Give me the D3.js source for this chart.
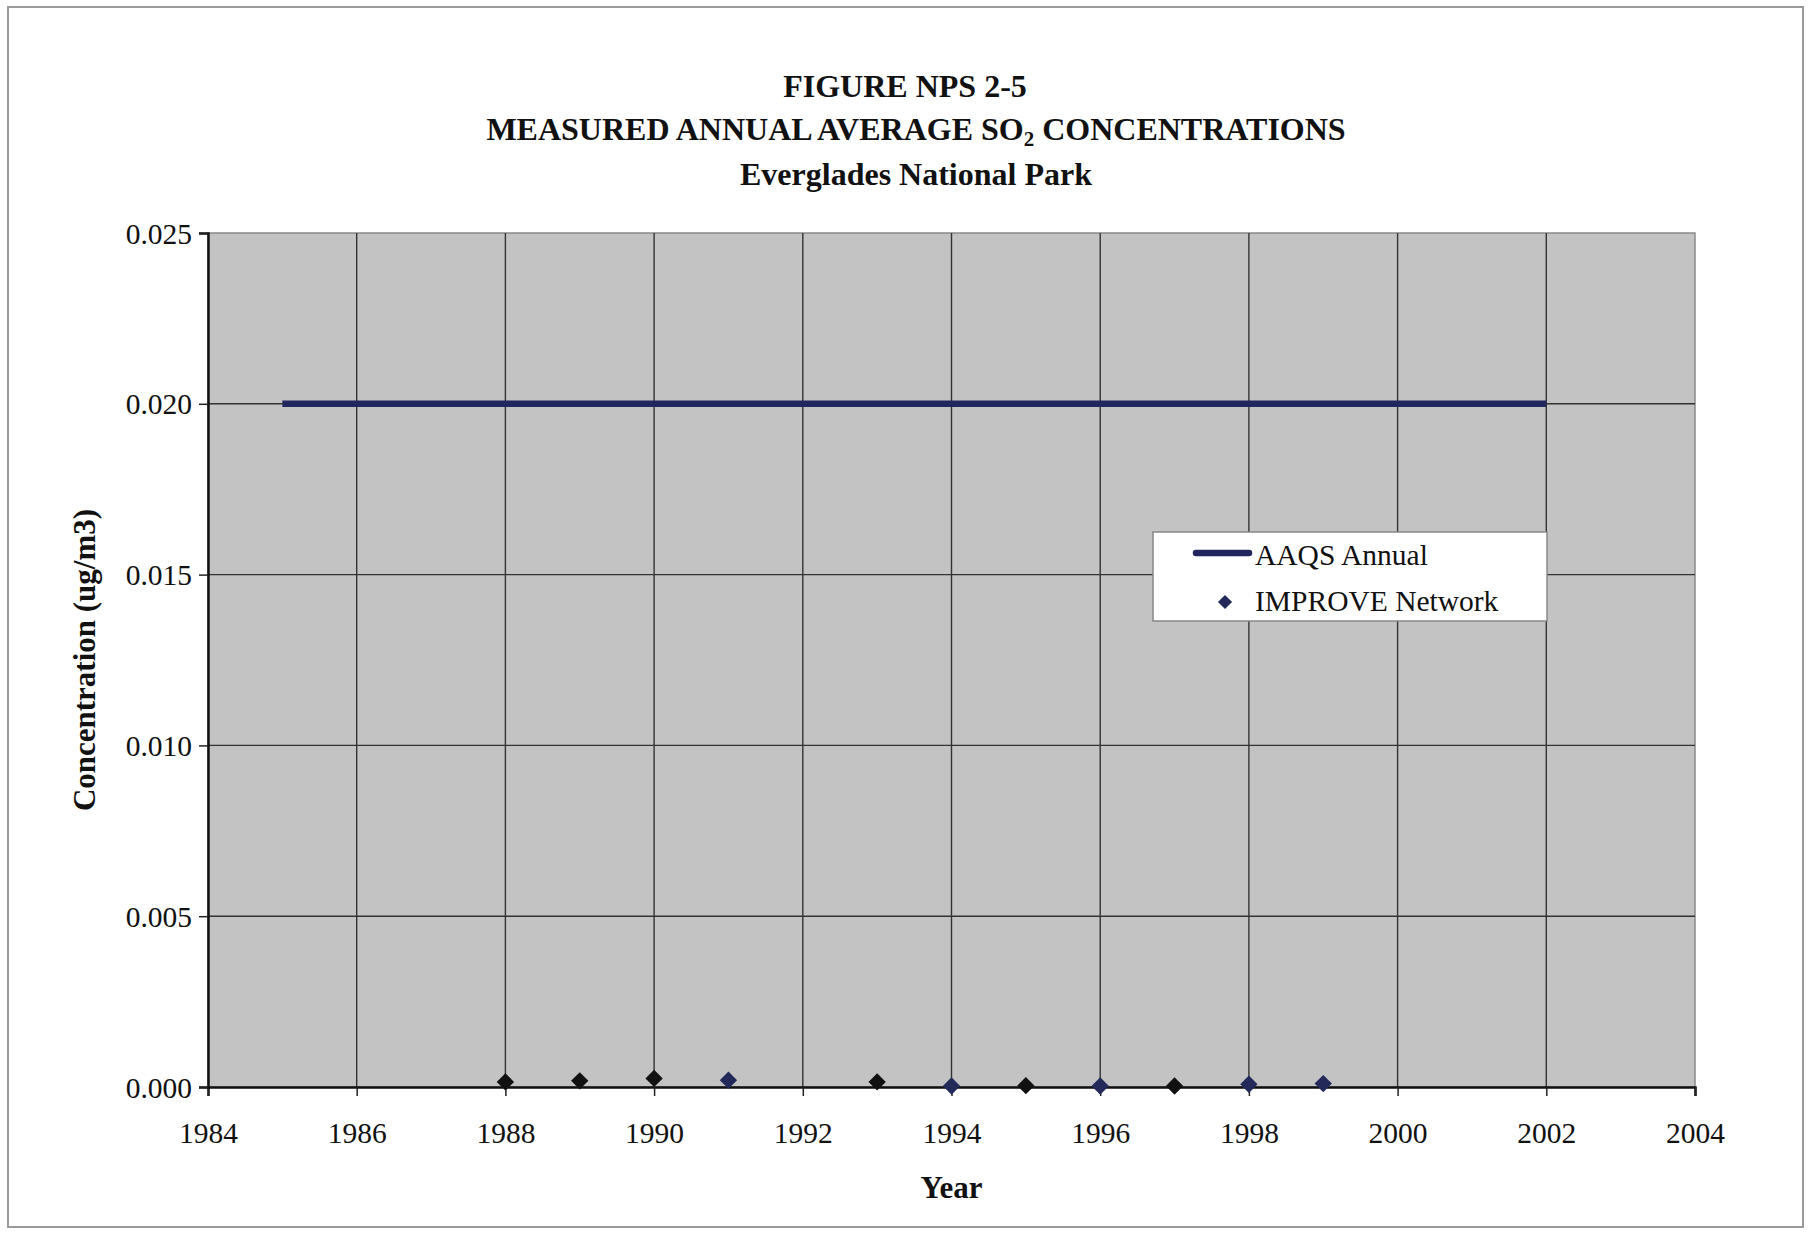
<!DOCTYPE html>
<html><head><meta charset="utf-8">
<script src="https://cdn.jsdelivr.net/npm/d3@7"></script>
<style>
html,body{margin:0;padding:0;background:#fff;}
svg{display:block;}
text{font-family:"Liberation Serif","Times New Roman",serif;fill:#111;}
</style></head>
<body>
<script>
const titleLines = ["FIGURE NPS 2-5", "MEASURED ANNUAL AVERAGE SO", "Everglades National Park"];
const xTicks = [1984,1986,1988,1990,1992,1994,1996,1998,2000,2002,2004];
const yTicks = [0,0.005,0.010,0.015,0.020,0.025];
const aaqsYears = [1985, 2002];
const aaqsValues = [0.020, 0.020];
const improveYears = [1988,1989,1990,1991,1993,1994,1995,1996,1997,1998,1999];
const improveValues = [0.00015,0.00018,0.00025,0.00020,0.00015,0.00003,0.00004,0.00003,0.00003,0.00008,0.00010];
const seriesNames = ["AAQS Annual", "IMPROVE Network"];

const W = 1809, H = 1233;
const m = {left:208, right:1695, top:233, bottom:1087};
const svg = d3.select("body").append("svg").attr("width",W).attr("height",H);

// outer frame
svg.append("rect").attr("x",8).attr("y",7).attr("width",1795).attr("height",1220)
  .attr("fill","#fff").attr("stroke","#9a9a9a").attr("stroke-width",2);

const x = d3.scaleLinear().domain([1984,2004]).range([m.left,m.right]);
const y = d3.scaleLinear().domain([0,0.025]).range([m.bottom,m.top]);

// plot area
svg.append("rect").attr("x",m.left).attr("y",m.top).attr("width",m.right-m.left).attr("height",m.bottom-m.top)
  .attr("fill","#c3c3c3").attr("stroke","#8a8a8a").attr("stroke-width",1.5);

// gridlines
const g = svg.append("g");
g.selectAll(".vg").data(xTicks.slice(1,-1)).join("line")
  .attr("x1",d=>x(d)).attr("x2",d=>x(d)).attr("y1",m.top).attr("y2",m.bottom)
  .attr("stroke","#333").attr("stroke-width",1.4);
g.selectAll(".hg").data(yTicks.slice(1,-1)).join("line")
  .attr("x1",m.left).attr("x2",m.right).attr("y1",d=>y(d)).attr("y2",d=>y(d))
  .attr("stroke","#333").attr("stroke-width",1.4);

// axes
const xAxis = d3.axisBottom(x).tickValues(xTicks).tickFormat(d3.format("d")).tickSize(9).tickPadding(26);
const yAxis = d3.axisLeft(y).tickValues(yTicks).tickFormat(d3.format(".3f")).tickSize(9).tickPadding(7);
const gx = svg.append("g").attr("transform",`translate(0,${m.bottom})`).call(xAxis);
const gy = svg.append("g").attr("transform",`translate(${m.left},0)`).call(yAxis);
[gx,gy].forEach(a=>{
  a.select(".domain").attr("stroke","#111").attr("stroke-width",2.5);
  a.selectAll(".tick line").attr("stroke","#222").attr("stroke-width",1.5);
  a.selectAll(".tick text").attr("font-size",29.5).attr("fill","#111")
    .attr("font-family","'Liberation Serif',serif");
});
gy.selectAll(".tick text").attr("dy","0.34em");

// AAQS line
const lineGen = d3.line().x(d=>x(d[0])).y(d=>y(d[1]));
svg.append("path").datum(aaqsYears.map((d,i)=>[d,aaqsValues[i]]))
  .attr("d",lineGen).attr("fill","none").attr("stroke","#22265e").attr("stroke-width",6.5);

// IMPROVE points
const diamond = d3.symbol().type(d3.symbolSquare).size(150);
svg.selectAll(".pt").data(improveYears.map((d,i)=>[d,improveValues[i]])).join("path")
  .attr("d",diamond)
  .attr("transform",d=>`translate(${x(d[0])},${y(d[1])}) rotate(45)`)
  .attr("fill",(d,i)=>[3,5,7,9,10].includes(i)?"#232a5a":"#111")
  .attr("stroke","none");

// titles
svg.append("text").attr("x",905).attr("y",97).attr("text-anchor","middle")
  .attr("font-size",32).attr("font-weight","bold").text(titleLines[0]);
const t2 = svg.append("text").attr("x",916).attr("y",140).attr("text-anchor","middle")
  .attr("font-size",32).attr("font-weight","bold");
t2.append("tspan").text(titleLines[1]);
t2.append("tspan").attr("font-size",21).attr("dy",6).text("2");
t2.append("tspan").attr("dy",-6).text(" CONCENTRATIONS");
svg.append("text").attr("x",916).attr("y",185).attr("text-anchor","middle")
  .attr("font-size",32).attr("font-weight","bold").text(titleLines[2]);

// axis titles
svg.append("text").attr("x",(m.left+m.right)/2).attr("y",1198).attr("text-anchor","middle")
  .attr("font-size",31).attr("font-weight","bold").text("Year");
svg.append("text").attr("transform",`translate(95,${(m.top+m.bottom)/2}) rotate(-90)`)
  .attr("text-anchor","middle").attr("font-size",31).attr("font-weight","bold")
  .text("Concentration (ug/m3)");

// legend
const lg = svg.append("g");
lg.append("rect").attr("x",1153).attr("y",532).attr("width",394).attr("height",89)
  .attr("fill","#fff").attr("stroke","#888").attr("stroke-width",1.5);
lg.append("line").attr("x1",1196).attr("x2",1249).attr("y1",553).attr("y2",553)
  .attr("stroke","#22265e").attr("stroke-width",6.5).attr("stroke-linecap","round");
lg.append("path").attr("d",d3.symbol().type(d3.symbolSquare).size(100))
  .attr("transform","translate(1225,602) rotate(45)").attr("fill","#232a5a");
lg.append("text").attr("x",1255).attr("y",565).attr("font-size",29.5).text(seriesNames[0]);
lg.append("text").attr("x",1255).attr("y",611).attr("font-size",29.5).text(seriesNames[1]);
</script>
</body></html>
